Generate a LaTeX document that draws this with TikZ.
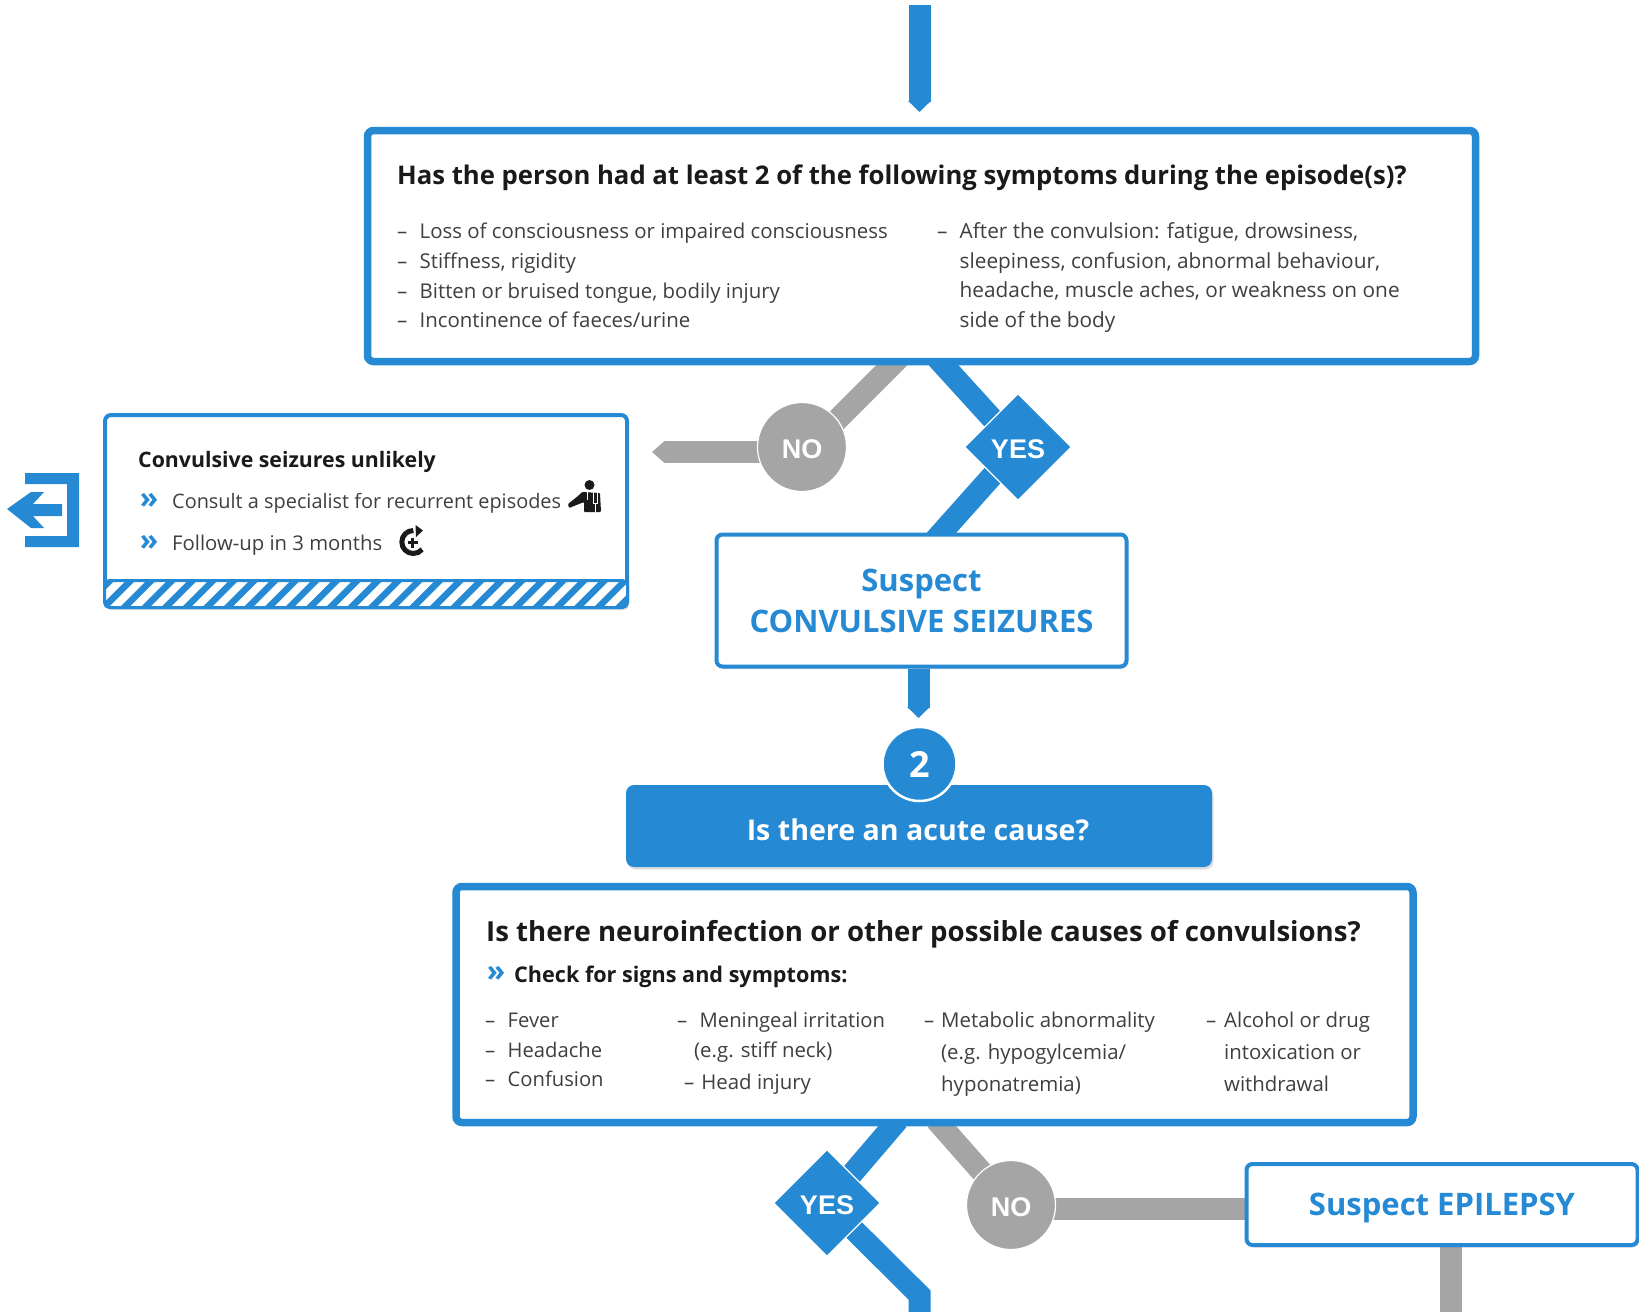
\documentclass[tikz,border=0pt]{standalone}
\usepackage{fontspec}
\setmainfont{Open Sans}
\newfontfamily\tagfont{Liberation Sans}
\usetikzlibrary{arrows.meta,backgrounds,shadows,shapes.geometric}
\definecolor{flowblue}{HTML}{2589D4}
\definecolor{flowgrey}{HTML}{A6A5A5}
\definecolor{bodyink}{HTML}{3F3F3F}
\definecolor{headink}{HTML}{1A1A1A}
\newcommand{\dashitem}{\makebox[22.5pt][l]{--}}
\newcommand{\dashgap}{\hspace*{22.5pt}}
\newcommand{\px}[2]{\fontsize{#1}{#2}\selectfont}
\tikzset{
	softshadow/.style = {drop shadow={shadow xshift=1.5pt, shadow yshift=-2.5pt, opacity=.25}},
	flowbox/.style = {draw=flowblue, fill=white, rounded corners=6pt, inner sep=0pt, softshadow},
	yeslink/.style = {draw=flowblue, line width=22pt},
	nolink/.style = {draw=flowgrey, line width=22pt},
	yestag/.style = {diamond, aspect=1, fill=flowblue, draw=white, line width=1.2pt, inner sep=0pt, minimum width=107pt, minimum height=107pt, text=white, text height=23pt, text depth=0pt, font=\tagfont\bfseries\px{27}{30}},
	notag/.style = {circle, fill=flowgrey, draw=white, line width=1.2pt, inner sep=0pt, minimum size=89pt, text=white, text height=23pt, text depth=0pt, font=\tagfont\bfseries\px{27}{30}},
	headtext/.style = {anchor=west, inner sep=0pt, text=headink, font=\bfseries\px{25.7}{30}},
	listtext/.style = {anchor=west, inner sep=0pt, text=bodyink, align=left, font=\px{20.4}{29.7}},
	listwide/.style = {listtext, font=\px{20.4}{32}},
	callout/.style = {align=center, inner sep=0pt, text=flowblue, font=\bfseries\px{31}{41}},
	chevron/.style = {anchor=center, inner sep=0pt, text=flowblue, font=\bfseries\px{30}{30}}
}
\begin{document}
\begin{tikzpicture}[x=1pt, y=-1pt]
	\useasboundingbox (0,0) rectangle (1639,1312);

	% First question box
	\node[flowbox, line width=7.5pt, minimum width=1108pt, minimum height=231pt] (symptoms) at (921.5,246) {};
	\node[headtext] (symptomshead) at (397,178) {Has the person had at least 2 of the following symptoms during the episode(s)?};
	\node[listtext] (symptomsleft) at (397,275.5) {\dashitem Loss of consciousness or impaired consciousness\\\dashitem Stiffness, rigidity\\\dashitem Bitten or bruised tongue, bodily injury\\\dashitem Incontinence of faeces/urine};
	\node[listtext, font=\px{20.8}{29.7}] (symptomsright) at (937,277.5) {\dashitem After the convulsion: fatigue, drowsiness,\\\dashgap sleepiness, confusion, abnormal behaviour,\\\dashgap headache, muscle aches, or weakness on one\\\dashgap side of the body};

	% Decision tags
	\node[notag] (notop) at (802,447) {NO};
	\node[yestag] (yestop) at (1018,447) {YES};

	% Unlikely box
	\node[flowbox, line width=4pt, minimum width=522pt, minimum height=191pt] (unlikely) at (366,510.5) {};
	\node[draw=flowblue, line width=3pt, fill=white, rounded corners=5pt, minimum width=523pt, minimum height=27pt, inner sep=0pt, softshadow, path picture={
		\foreach \i in {-290,-269.4,...,300}
		\draw[flowblue, line width=6.5pt] (\i-18,18) -- (\i+18,-18);
	}] (hatch) at (366,594) {};
	\node[headtext, font=\bfseries\px{21.3}{26}] (unlikelyhead) at (138,462) {Convulsive seizures unlikely};
	\node[chevron] (consultmark) at (149,501) {»};
	\node[listtext, font=\px{19.9}{26}] (consult) at (172,503) {Consult a specialist for recurrent episodes};
	\node[chevron] (followmark) at (149,543) {»};
	\node[listtext, font=\px{20.3}{26}] (follow) at (172,545) {Follow-up in 3 months};

	% Small icons
	\fill[headink] (589.5,485) circle (5);
	\fill[headink, rounded corners=1pt] (582,492) -- (600,493) -- (601,512) -- (584,512) -- (584,502) -- (569,508) -- (568,504) -- (578,496) -- cycle;
	\draw[white, line width=1pt] (587,492) -- (587,500) (593,492) -- (593,503) -- (597,503) -- (597,492) (595,503) -- (595,512);
	\draw[headink, line width=5pt] (413.3,542) ++(-90:11.5) arc[start angle=-90, end angle=-320, radius=11.5];
	\fill[headink] (415.5,525) -- (423,530.5) -- (416,537) -- cycle;
	\draw[headink, line width=2.5pt] (407.5,542.5) -- (418,542.5) (412.7,537.5) -- (412.7,548);

	% Exit mark
	\fill[flowblue] (25,473) -- (79,473) -- (79,547) -- (25,547) -- (25,536) -- (67,536) -- (67,484) -- (25,484) -- cycle;
	\fill[flowblue] (7,509) -- (31,492) -- (44,492) -- (33,504) -- (62,504) -- (62,516) -- (33,516) -- (44,528) -- (31,528) -- cycle;

	% Suspect box
	\node[flowbox, line width=4pt, minimum width=410pt, minimum height=132pt, callout] (convulsive) at (921.5,600.5) {Suspect\\CONVULSIVE SEIZURES};

	% Second question bar
	\node[fill=flowblue, rounded corners=8pt, minimum width=586pt, minimum height=82pt, inner sep=0pt, softshadow] (acute) at (919,826) {};
	\node[inner sep=0pt, text=white, font=\bfseries\px{28.6}{30}] (acutetext) at (918,830) {Is there an acute cause?};
	\node[circle, fill=flowblue, draw=white, line width=2.5pt, minimum size=74pt, inner sep=0pt, text=white, font=\bfseries\px{36}{40}] (two) at (919.5,764) {2};

	% Second question box
	\node[flowbox, line width=7.5pt, minimum width=957pt, minimum height=236pt] (causes) at (934.5,1004.5) {};
	\node[headtext, font=\bfseries\px{27.6}{32}] (causeshead) at (486,934) {Is there neuroinfection or other possible causes of convulsions?};
	\node[chevron] (checkmark) at (496,974) {»};
	\node[headtext, font=\bfseries\px{21.6}{26}] (checkhead) at (514,977) {Check for signs and symptoms:};
	\node[listtext, font=\px{20.2}{29.7}] (colfever) at (485,1050) {\dashitem Fever\\\dashitem Headache\\\dashitem Confusion};
	\node[listtext, font=\px{20.2}{29.7}] (colmening) at (677,1022) {\dashitem Meningeal irritation};
	\node[listtext] (colstiff) at (694,1052) {(e.g. stiff neck)};
	\node[listtext] (colhead) at (684,1084) {--\hspace{7pt}Head injury};
	\node[listwide] (colmeta) at (924,1054) {\makebox[17pt][l]{--}Metabolic abnormality\\\hspace*{17pt}(e.g. hypogylcemia/\\\hspace*{17pt}hyponatremia)};
	\node[listwide] (colalcohol) at (1206,1052) {\makebox[18pt][l]{--}Alcohol or drug\\\hspace*{18pt}intoxication or\\\hspace*{18pt}withdrawal};

	\node[yestag] (yeslow) at (827,1203) {YES};
	\node[notag] (nolow) at (1011,1205) {NO};

	% Epilepsy box
	\node[flowbox, line width=4pt, minimum width=391pt, minimum height=81pt, callout, text height=29pt, text depth=7pt] (epilepsy) at (1442,1204.5) {Suspect EPILEPSY};

	% Connector ends
	\coordinate (topin) at (919.5,5);
	\coordinate (topout) at (919.5,112);
	\coordinate (symptomsno) at (899,358);
	\coordinate (nojoin) at (802,455);
	\coordinate (symptomsyes) at (937,358);
	\coordinate (unlikelyin) at (652,452);
	\coordinate (convulsiveyes) at (935,540);
	\coordinate (twoin) at (918.5,718);
	\coordinate (causesyes) at (898,1120);
	\coordinate (causesno) at (936,1120);
	\coordinate (lowbend) at (919.5,1295);
	\coordinate (lowend) at (919.5,1312);
	\coordinate (epilepsyout) at (1450.5,1312);

	% Connectors go under the nodes
	\begin{pgfonlayer}{background}
		\draw[yeslink, -{Triangle[length=11pt,width=22pt]}] (topin) -- (topout);
		\draw[nolink] (symptomsno) -- (nojoin);
		\draw[nolink, -{Triangle[length=13pt,width=22pt]}] (notop.center |- unlikelyin) -- (unlikelyin);
		\draw[yeslink] (symptomsyes) -- (yestop.center);
		\draw[yeslink] (yestop.center) -- (convulsiveyes);
		\draw[yeslink, -{Triangle[length=11pt,width=22pt]}] (twoin |- convulsive.south) -- (twoin);
		\draw[yeslink] (causesyes) -- (yeslow.center);
		\draw[yeslink, line join=miter] (yeslow.center) -- (lowbend) -- (lowend);
		\draw[nolink] (causesno) -- (nolow.center);
		\draw[nolink] (nolow.center |- 0,1209) -- (epilepsy.west |- 0,1209);
		\draw[nolink] (epilepsy.south -| epilepsyout) -- (epilepsyout);
	\end{pgfonlayer}
\end{tikzpicture}
\end{document}
